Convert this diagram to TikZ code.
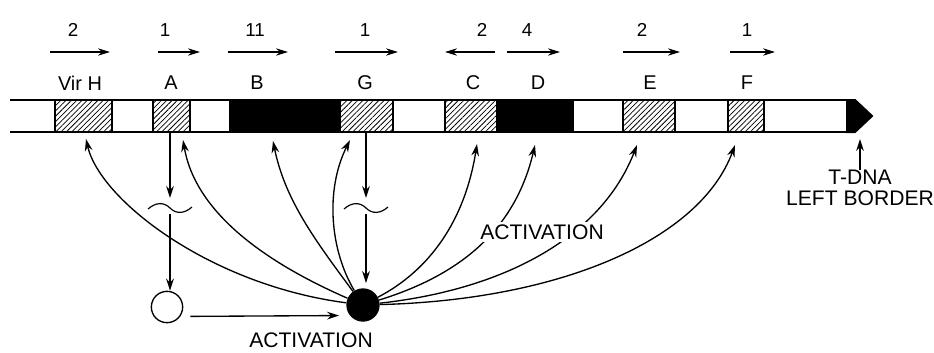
\documentclass[tikz,border=0pt]{standalone}
\usepackage{fontspec}
\setmainfont{Liberation Sans}
\usetikzlibrary{arrows.meta}
\usetikzlibrary{patterns.meta}
\tikzset{
    bar/.style={line width=0.6mm, draw=black},
    hatched/.style={bar, pattern={Lines[angle=45,distance=3.2pt,line width=0.65pt]}},
    solidbox/.style={bar, fill=black},
    link/.style={line width=0.4mm, -{Stealth[length=3.6mm,width=2.3mm]}},
    transcript/.style={line width=0.35mm, -{Stealth[length=3.6mm,width=2.2mm]}},
    genelabel/.style={inner sep=0pt, font=\fontsize{17}{18}\selectfont},
    countlabel/.style={inner sep=0pt, font=\fontsize{16}{18}\selectfont},
    biglabel/.style={inner sep=2pt, font=\fontsize{18}{18}\selectfont},
}
% one gene of the operon: name, text, left x, right x, text x, look
\newcommand{\drawgene}[6]{
    \draw [#6] (#3,100) rectangle (#4,132);
    \node [genelabel] (#1) at (#5,83) {#2};
    \coordinate (#1s) at ({(#3+#4)/2},132);
}
% direction and number of genes: name, count, from x, to x, count x
\newcommand{\drawtranscript}[5]{
    \coordinate (#1a) at (#3,52);
    \coordinate (#1b) at (#4,52);
    \draw [transcript] (#1a) -- (#1b);
    \node [countlabel] (#1) at (#5,30) {#2};
}
% the wavy break on a long arrow: name, x, y
\newcommand{\drawbreak}[3]{
    \draw [line width=0.35mm] (#2-22,#3+1) .. controls (#2-14,#3-6) and (#2-6,#3-6) .. (#2,#3)
        .. controls (#2+6,#3+6) and (#2+14,#3+6) .. (#2+22,#3-1);
    \coordinate (#1t) at (#2,#3-10);
    \coordinate (#1b) at (#2,#3+6);
}

\begin{document}
\begin{tikzpicture}[x=0.03cm, y=-0.03cm]
    \useasboundingbox (0,0) rectangle (934,352);
    \draw [bar] (10,100) -- (847,100);
    \draw [bar] (10,132) -- (847,132);
    \drawgene{VirH}{Vir H}{55}{112}{80}{hatched}
    \drawgene{A}{A}{153}{190}{171}{hatched}
    \drawgene{B}{B}{230}{340}{257}{solidbox}
    \drawgene{G}{G}{340}{393}{365}{hatched}
    \drawgene{C}{C}{445}{497}{473}{hatched}
    \drawgene{D}{D}{497}{573}{538}{solidbox}
    \drawgene{E}{E}{623}{675}{650}{hatched}
    \drawgene{F}{F}{728}{764}{747}{hatched}
    \filldraw [bar, fill=black] (847,100) -- (855,100) -- (872,116) -- (855,132) -- (847,132) -- cycle;

    \drawtranscript{nVirH}{2}{50}{110}{73}
    \drawtranscript{nA}{1}{158}{200}{165}
    \drawtranscript{nB}{11}{228}{288}{255}
    \drawtranscript{nG}{1}{335}{398}{365}
    \drawtranscript{nC}{2}{495}{445}{482}
    \drawtranscript{nD}{4}{507}{560}{527}
    \drawtranscript{nE}{2}{623}{680}{642}
    \drawtranscript{nF}{1}{730}{775}{747}

    \node [circle, draw, line width=0.4mm, minimum size=0.94cm, inner sep=0pt] (inact) at (167,307) {};
    \node [circle, fill=black, minimum size=1cm, inner sep=0pt] (act) at (363,305) {};

    % vir A and vir G feed the two proteins
    \drawbreak{Abrk}{170}{208}
    \drawbreak{Gbrk}{366}{208}
    \draw [link] (Abrkt |- As) -- (Abrkt);
    \draw [link] (Abrkb) -- (Abrkb |- inact.north);
    \draw [link] (Gbrkt |- Gs) -- (Gbrkt);
    \draw [link, shorten >=1.5mm] (Gbrkb) -- (Gbrkb |- act.north);
    \draw [link] ([xshift=6pt,yshift=-8pt]inact.east) -- ([xshift=-6pt,yshift=-9pt]act.west);

    \coordinate (tVirH) at (86,139);
    \coordinate (tA) at (183,140);
    \coordinate (tB) at (273,141);
    \coordinate (tG) at (350,140);
    \coordinate (tC) at (477,144);
    \coordinate (tD) at (535,145);
    \coordinate (tE) at (637,145);
    \coordinate (tF) at (735,145);
    \draw [link] (act) .. controls (210,285) and (100,200) .. (tVirH);
    \draw [link] (act) .. controls (260,260) and (195,210) .. (tA);
    \draw [link] (act) .. controls (315,240) and (285,200) .. (tB);
    \draw [link] (act) .. controls (330,250) and (325,190) .. (tG);
    \draw [link] (act) .. controls (430,270) and (465,220) .. (tC);
    \draw [link] (act) .. controls (460,275) and (515,230) .. (tD);
    \draw [link] (act) .. controls (500,290) and (600,240) .. (tE);
    \draw [link] (act) .. controls (560,300) and (700,240) .. (tF);

    \node [biglabel, fill=white] (actMid) at (542,232) {ACTIVATION};
    \node [biglabel] (actLow) at (311,340) {ACTIVATION};
    \node [biglabel, inner sep=0pt] (borderTop) at (860,177) {T-DNA};
    \node [biglabel, inner sep=0pt] (borderBot) at (860,198) {LEFT BORDER};
    \coordinate (borderTip) at (860,139);
    \draw [link] (borderTop.north) -- (borderTip);
\end{tikzpicture}
\end{document}
